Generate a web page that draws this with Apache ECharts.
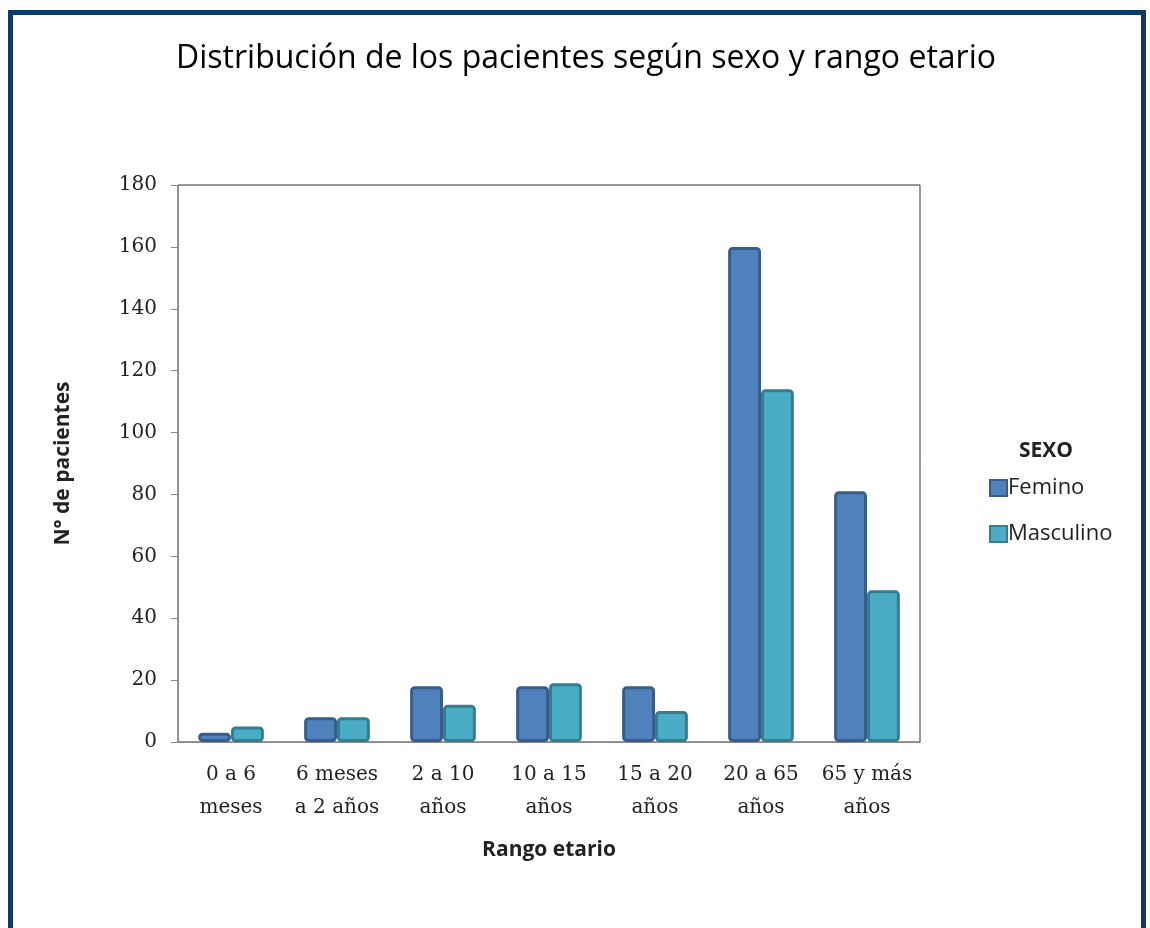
<!DOCTYPE html>
<html>
<head>
<meta charset="utf-8">
<script src="https://cdn.jsdelivr.net/npm/echarts@6/dist/echarts.min.js"></script>
<style>html,body{margin:0;padding:0;background:#fff;}#chart{width:1150px;height:928px;}</style>
</head>
<body>
<div id="chart"></div>
<script>
const categories = ["0 a 6\nmeses", "6 meses\na 2 años", "2 a 10\naños", "10 a 15\naños", "15 a 20\naños", "20 a 65\naños", "65 y más\naños"];
const femino = [3, 8, 18, 18, 18, 160, 81];
const masculino = [5, 8, 12, 19, 10, 114, 49];
const yTicks = { min: 0, max: 180, interval: 20 };

const chart = echarts.init(document.getElementById('chart'));
chart.setOption({
  animation: false,
  backgroundColor: '#fff',
  graphic: [{
    type: 'rect', silent: true, z: -1,
    shape: { x: 10.5, y: 12.5, width: 1133, height: 1000 },
    style: { fill: '#fff', stroke: '#0c3a6a', lineWidth: 5 }
  }],
  title: [{
    text: 'Distribución de los pacientes según sexo y rango etario',
    left: 581, top: 38, textAlign: 'center',
    textStyle: { fontFamily: 'Open Sans', fontSize: 32, fontWeight: 'normal', color: '#000' }
  }, {
    text: 'SEXO',
    left: 1041, top: 436, textAlign: 'center',
    textStyle: { fontFamily: 'Open Sans', fontSize: 21, fontWeight: 'bold', color: '#222' }
  }],
  legend: {
    orient: 'vertical', left: 984, top: 472,
    itemWidth: 17, itemHeight: 16, itemGap: 24,
    icon: 'rect',
    textStyle: { fontFamily: 'Open Sans', fontSize: 22, color: '#222', padding: [0, 0, 0, -4] },
    data: ['Femino', 'Masculino']
  },
  grid: {
    left: 178, right: 230, top: 185, bottom: 186,
    show: true, borderColor: '#333', borderWidth: 1, backgroundColor: 'transparent'
  },
  xAxis: {
    type: 'category', data: categories,
    name: 'Rango etario', nameLocation: 'middle', nameGap: 98,
    nameTextStyle: { fontFamily: 'Open Sans', fontSize: 21, fontWeight: 'bold', color: '#222' },
    axisLine: { lineStyle: { color: '#888' } },
    axisTick: { show: false },
    axisLabel: { fontFamily: 'DejaVu Serif', fontSize: 20, color: '#222', lineHeight: 33, margin: 16, interval: 0 }
  },
  yAxis: {
    type: 'value', min: yTicks.min, max: yTicks.max, interval: yTicks.interval,
    name: 'N° de pacientes', nameLocation: 'middle', nameGap: 104,
    nameTextStyle: { fontFamily: 'Open Sans', fontSize: 21, fontWeight: 'bold', color: '#222' },
    axisLine: { show: true, lineStyle: { color: '#888' } },
    axisTick: { show: true, length: 7, lineStyle: { color: '#888' } },
    splitLine: { show: false },
    axisLabel: { fontFamily: 'DejaVu Serif', fontSize: 20, color: '#222', margin: 21 }
  },
  series: [{
    name: 'Femino', type: 'bar', data: femino,
    barGap: '0%', barCategoryGap: '38%',
    itemStyle: { color: '#4f81bd', borderColor: '#385d8a', borderWidth: 3, borderRadius: 3 }
  }, {
    name: 'Masculino', type: 'bar', data: masculino,
    itemStyle: { color: '#4bacc6', borderColor: '#357d91', borderWidth: 3, borderRadius: 3 }
  }]
});
</script>
</body>
</html>
